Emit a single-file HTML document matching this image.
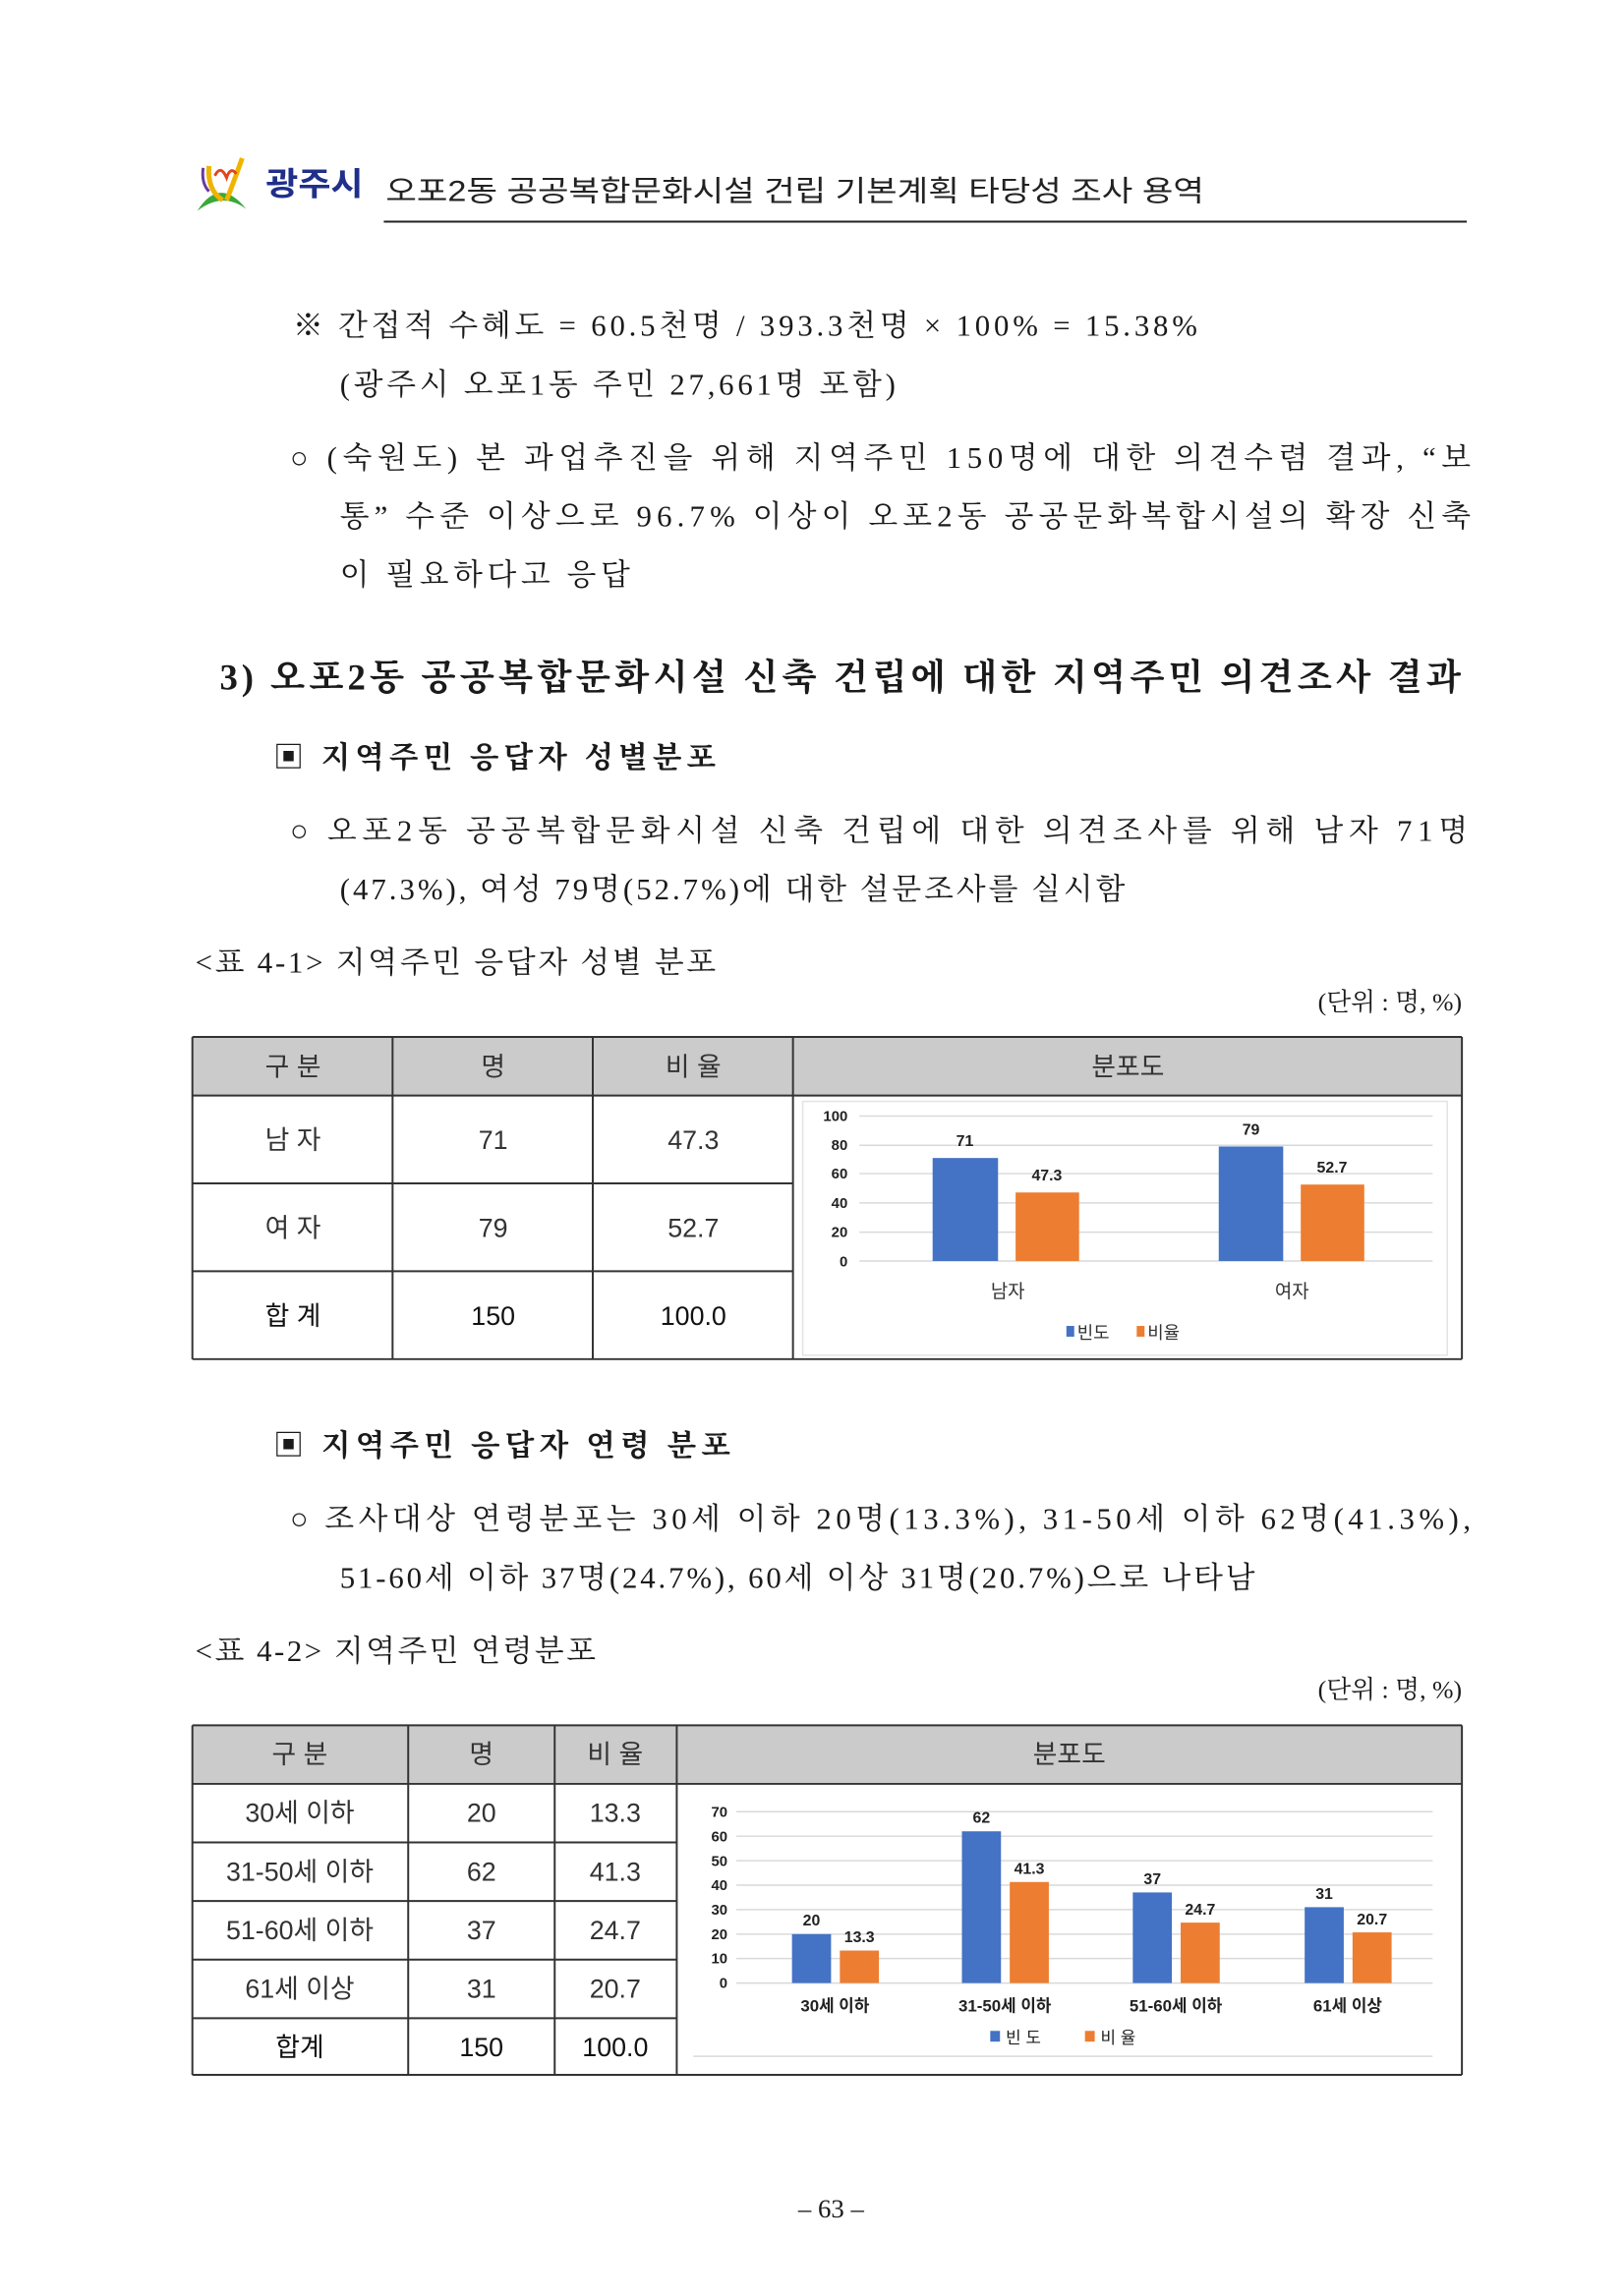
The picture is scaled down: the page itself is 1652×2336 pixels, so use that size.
<!DOCTYPE html>
<html><head><meta charset="utf-8"><style>
html,body{margin:0;padding:0;background:#fff;}
svg{display:block;}
.b{font-family:"Liberation Serif","Noto Serif CJK SC",serif;font-size:31px;fill:#1a1a1a;}
.h{font-family:"Liberation Sans","Noto Sans CJK KR",sans-serif;font-size:30px;fill:#222;}
.t{font-family:"Liberation Sans","Noto Sans CJK KR",sans-serif;font-size:27px;fill:#333;text-anchor:middle;}
.c{font-family:"Liberation Sans","Noto Sans CJK KR",sans-serif;font-weight:bold;fill:#222;}
.cl{font-family:"Liberation Sans","Noto Sans CJK KR",sans-serif;fill:#333;}
</style></head><body>
<svg width="1652" height="2336" viewBox="0 0 1652 2336" xmlns="http://www.w3.org/2000/svg">
<g transform="scale(0.9934)">
<!-- logo -->
<path d="M202 216 Q225 180 252 214 Q228 196 202 216Z" fill="#3aa83a"/>
<path d="M214 170 Q212 195 228 205" stroke="#f0b400" stroke-width="5" fill="none"/>
<path d="M248 162 Q238 190 232 205" stroke="#f0b400" stroke-width="5" fill="none"/>
<path d="M220 180 Q226 168 232 182 Q236 170 242 178" stroke="#e0461e" stroke-width="3" fill="none"/>
<path d="M208 172 Q206 188 214 196" stroke="#6a3aa0" stroke-width="3" fill="none"/>
<text x="272" y="200" style="font-family:'Liberation Sans','Noto Sans CJK KR',sans-serif;font-weight:bold;font-size:33px;fill:#1f2f8a" textLength="100" lengthAdjust="spacingAndGlyphs">광주시</text>
<text x="395" y="206" class="h" textLength="838" lengthAdjust="spacingAndGlyphs">오포2동 공공복합문화시설 건립 기본계획 타당성 조사 용역</text>
<line x1="393" y1="227" x2="1502" y2="227" stroke="#222" stroke-width="2"/>

<text x="300" y="344" class="b" textLength="926" lengthAdjust="spacing">※ 간접적 수혜도 = 60.5천명 / 393.3천명 × 100% = 15.38%</text>
<text x="348" y="404" class="b" textLength="569" lengthAdjust="spacing">(광주시 오포1동 주민 27,661명 포함)</text>
<text x="297" y="479" class="b" textLength="1209" lengthAdjust="spacing">○ (숙원도) 본 과업추진을 위해 지역주민 150명에 대한 의견수렴 결과, “보</text>
<text x="348" y="539" class="b" textLength="1158" lengthAdjust="spacing">통” 수준 이상으로 96.7% 이상이 오포2동 공공문화복합시설의 확장 신축</text>
<text x="348" y="599" class="b" textLength="297" lengthAdjust="spacing">이 필요하다고 응답</text>

<text x="225" y="706" class="b" style="font-size:37px;font-weight:bold" textLength="1271" lengthAdjust="spacing">3) 오포2동 공공복합문화시설 신축 건립에 대한 지역주민 의견조사 결과</text>
<text x="280" y="786" class="b" style="font-weight:bold" textLength="453" lengthAdjust="spacing">▣ 지역주민 응답자 성별분포</text>
<text x="297" y="861" class="b" textLength="1206" lengthAdjust="spacing">○ 오포2동 공공복합문화시설 신축 건립에 대한 의견조사를 위해 남자 71명</text>
<text x="348" y="921" class="b" textLength="804" lengthAdjust="spacing">(47.3%), 여성 79명(52.7%)에 대한 설문조사를 실시함</text>
<text x="200" y="996" class="b" textLength="533" lengthAdjust="spacing">&lt;표 4-1&gt; 지역주민 응답자 성별 분포</text>
<text x="1497" y="1035" class="b" style="font-size:26px;text-anchor:end">(단위 : 명, %)</text>

<!-- table 1 -->
<rect x="197" y="1062" width="1300" height="60" fill="#cbcbcb"/>
<g stroke="#333" stroke-width="2">
<line x1="197" y1="1062" x2="1497" y2="1062"/><line x1="197" y1="1122" x2="1497" y2="1122"/>
<line x1="197" y1="1212" x2="812" y2="1212"/><line x1="197" y1="1302" x2="812" y2="1302"/>
<line x1="197" y1="1392" x2="1497" y2="1392"/>
<line x1="197" y1="1062" x2="197" y2="1392"/><line x1="402" y1="1062" x2="402" y2="1392"/>
<line x1="607" y1="1062" x2="607" y2="1392"/><line x1="812" y1="1062" x2="812" y2="1392"/>
<line x1="1497" y1="1062" x2="1497" y2="1392"/>
</g>
<text x="300" y="1102" class="t">구 분</text><text x="505" y="1102" class="t">명</text><text x="710" y="1102" class="t">비 율</text><text x="1155" y="1102" class="t">분포도</text>
<text x="300" y="1177" class="t">남 자</text><text x="505" y="1177" class="t">71</text><text x="710" y="1177" class="t">47.3</text>
<text x="300" y="1267" class="t">여 자</text><text x="505" y="1267" class="t">79</text><text x="710" y="1267" class="t">52.7</text>
<text x="300" y="1357" class="t" style="fill:#111">합 계</text><text x="505" y="1357" class="t" style="fill:#111">150</text><text x="710" y="1357" class="t" style="fill:#111">100.0</text>

<!-- chart 1 -->
<rect x="822" y="1128" width="660" height="260" fill="none" stroke="#e3e3e3" stroke-width="1.5"/>
<g stroke="#d9d9d9" stroke-width="1.5">
<line x1="880" y1="1143" x2="1467" y2="1143"/><line x1="880" y1="1173" x2="1467" y2="1173"/>
<line x1="880" y1="1202" x2="1467" y2="1202"/><line x1="880" y1="1232" x2="1467" y2="1232"/>
<line x1="880" y1="1262" x2="1467" y2="1262"/><line x1="880" y1="1291.5" x2="1467" y2="1291.5"/>
</g>
<g class="c" style="font-size:15px;text-anchor:end">
<text x="868" y="1148">100</text><text x="868" y="1178">80</text><text x="868" y="1207">60</text>
<text x="868" y="1237">40</text><text x="868" y="1267">20</text><text x="868" y="1297">0</text>
</g>
<rect x="955" y="1186" width="67" height="105.5" fill="#4472c4"/>
<rect x="1040" y="1221.3" width="65" height="70.2" fill="#ed7d31"/>
<rect x="1248" y="1174.2" width="66" height="117.3" fill="#4472c4"/>
<rect x="1332" y="1213.2" width="65" height="78.3" fill="#ed7d31"/>
<g class="c" style="font-size:16px;text-anchor:middle">
<text x="988" y="1174">71</text><text x="1072" y="1209">47.3</text>
<text x="1281" y="1162">79</text><text x="1364" y="1201">52.7</text>
</g>
<text x="1032" y="1329" class="cl" style="font-size:19px;text-anchor:middle">남자</text>
<text x="1323" y="1329" class="cl" style="font-size:19px;text-anchor:middle">여자</text>
<rect x="1092" y="1358" width="8" height="11" fill="#4472c4"/>
<text x="1103" y="1371" class="cl" style="font-size:18px">빈도</text>
<rect x="1164" y="1358" width="8" height="11" fill="#ed7d31"/>
<text x="1175" y="1371" class="cl" style="font-size:18px">비율</text>

<text x="280" y="1491" class="b" style="font-weight:bold" textLength="468" lengthAdjust="spacing">▣ 지역주민 응답자 연령 분포</text>
<text x="297" y="1566" class="b" textLength="1209" lengthAdjust="spacing">○ 조사대상 연령분포는 30세 이하 20명(13.3%), 31-50세 이하 62명(41.3%),</text>
<text x="348" y="1626" class="b" textLength="937" lengthAdjust="spacing">51-60세 이하 37명(24.7%), 60세 이상 31명(20.7%)으로 나타남</text>
<text x="200" y="1701" class="b" textLength="410" lengthAdjust="spacing">&lt;표 4-2&gt; 지역주민 연령분포</text>
<text x="1497" y="1739" class="b" style="font-size:26px;text-anchor:end">(단위 : 명, %)</text>

<!-- table 2 -->
<rect x="197" y="1767" width="1300" height="60" fill="#cbcbcb"/>
<g stroke="#333" stroke-width="2">
<line x1="197" y1="1767" x2="1497" y2="1767"/><line x1="197" y1="1827" x2="1497" y2="1827"/>
<line x1="197" y1="1887" x2="693" y2="1887"/><line x1="197" y1="1947" x2="693" y2="1947"/>
<line x1="197" y1="2007" x2="693" y2="2007"/><line x1="197" y1="2067" x2="693" y2="2067"/>
<line x1="197" y1="2125" x2="1497" y2="2125"/>
<line x1="197" y1="1767" x2="197" y2="2125"/><line x1="418" y1="1767" x2="418" y2="2125"/>
<line x1="568" y1="1767" x2="568" y2="2125"/><line x1="693" y1="1767" x2="693" y2="2125"/>
<line x1="1497" y1="1767" x2="1497" y2="2125"/>
</g>
<text x="307" y="1806" class="t">구 분</text><text x="493" y="1806" class="t">명</text><text x="630" y="1806" class="t">비 율</text><text x="1095" y="1806" class="t">분포도</text>
<text x="307" y="1866" class="t">30세 이하</text><text x="493" y="1866" class="t">20</text><text x="630" y="1866" class="t">13.3</text>
<text x="307" y="1926" class="t">31-50세 이하</text><text x="493" y="1926" class="t">62</text><text x="630" y="1926" class="t">41.3</text>
<text x="307" y="1986" class="t">51-60세 이하</text><text x="493" y="1986" class="t">37</text><text x="630" y="1986" class="t">24.7</text>
<text x="307" y="2046" class="t">61세 이상</text><text x="493" y="2046" class="t">31</text><text x="630" y="2046" class="t">20.7</text>
<text x="307" y="2106" class="t" style="fill:#111">합계</text><text x="493" y="2106" class="t" style="fill:#111">150</text><text x="630" y="2106" class="t" style="fill:#111">100.0</text>

<!-- chart 2 -->
<g stroke="#d9d9d9" stroke-width="1.5">
<line x1="754" y1="1855.5" x2="1467" y2="1855.5"/><line x1="754" y1="1880.6" x2="1467" y2="1880.6"/>
<line x1="754" y1="1905.7" x2="1467" y2="1905.7"/><line x1="754" y1="1930.7" x2="1467" y2="1930.7"/>
<line x1="754" y1="1955.8" x2="1467" y2="1955.8"/><line x1="754" y1="1980.9" x2="1467" y2="1980.9"/>
<line x1="754" y1="2005.9" x2="1467" y2="2005.9"/><line x1="754" y1="2031" x2="1467" y2="2031"/>
<line x1="710" y1="2106" x2="1467" y2="2106"/>
</g>
<g class="c" style="font-size:15px;text-anchor:end">
<text x="745" y="1861">70</text><text x="745" y="1886">60</text><text x="745" y="1911">50</text>
<text x="745" y="1936">40</text><text x="745" y="1961">30</text><text x="745" y="1986">20</text>
<text x="745" y="2011">10</text><text x="745" y="2036">0</text>
</g>
<rect x="811" y="1980.9" width="40" height="50.1" fill="#4472c4"/>
<rect x="860" y="1997.7" width="40" height="33.3" fill="#ed7d31"/>
<rect x="985" y="1875.6" width="40" height="155.4" fill="#4472c4"/>
<rect x="1034" y="1927.5" width="40" height="103.5" fill="#ed7d31"/>
<rect x="1160" y="1938.2" width="40" height="92.8" fill="#4472c4"/>
<rect x="1209" y="1969.1" width="40" height="61.9" fill="#ed7d31"/>
<rect x="1336" y="1953.3" width="40" height="77.7" fill="#4472c4"/>
<rect x="1385" y="1979.1" width="40" height="51.9" fill="#ed7d31"/>
<g class="c" style="font-size:16px;text-anchor:middle">
<text x="831" y="1972">20</text><text x="880" y="1989">13.3</text>
<text x="1005" y="1867">62</text><text x="1054" y="1919">41.3</text>
<text x="1180" y="1930">37</text><text x="1229" y="1961">24.7</text>
<text x="1356" y="1945">31</text><text x="1405" y="1971">20.7</text>
</g>
<g class="c" style="font-size:17px;text-anchor:middle">
<text x="855" y="2060">30세 이하</text><text x="1029" y="2060">31-50세 이하</text>
<text x="1204" y="2060">51-60세 이하</text><text x="1380" y="2060">61세 이상</text>
</g>
<rect x="1014" y="2080" width="10" height="11" fill="#4472c4"/>
<text x="1030" y="2093" class="c" style="font-size:17px;font-weight:normal">빈 도</text>
<rect x="1111" y="2080" width="10" height="11" fill="#ed7d31"/>
<text x="1127" y="2093" class="c" style="font-size:17px;font-weight:normal">비 율</text>

<text x="851" y="2271" class="b" style="font-size:27px;text-anchor:middle">– 63 –</text>
</g>
</svg>
</body></html>
